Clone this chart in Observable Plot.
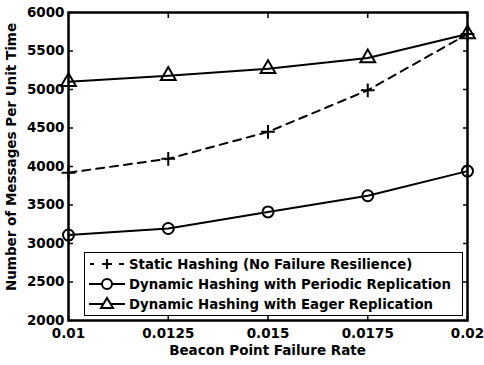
<!DOCTYPE html>
<html>
<head>
<meta charset="utf-8">
<script src="https://cdn.jsdelivr.net/npm/d3@7"></script>
<script src="https://cdn.jsdelivr.net/npm/@observablehq/plot@0.6"></script>
<style>
  html, body { margin: 0; padding: 0; background: white; }
  #wrap { position: relative; width: 484px; height: 365px; font-family: "DejaVu Sans", sans-serif; font-weight: bold; color: black; }
  #legend { position: absolute; left: 84px; top: 252px; width: 379px; height: 64px; border: 1.5px solid black; background: white; box-sizing: border-box; font-size: 13.3px; }
  .row { position: absolute; left: 0; height: 20px; display: flex; align-items: center; white-space: nowrap; }
  .row svg { margin-left: 4px; margin-right: 3px; }
</style>
</head>
<body>
<div id="wrap"></div>
<script>
const failureRates = [0.01, 0.0125, 0.015, 0.0175, 0.02];
const staticHashing = [3920, 4100, 4450, 4990, 5720];
const periodicReplication = [3110, 3195, 3410, 3620, 3940];
const eagerReplication = [5100, 5180, 5270, 5410, 5720];
const xTickValues = [0.01, 0.0125, 0.015, 0.0175, 0.02];
const xTickLabels = ["0.01", "0.0125", "0.015", "0.0175", "0.02"];
const yTickValues = [2000, 2500, 3000, 3500, 4000, 4500, 5000, 5500, 6000];
const seriesNames = [
  "Static Hashing (No Failure Resilience)",
  "Dynamic Hashing with Periodic Replication",
  "Dynamic Hashing with Eager Replication"
];

const mk = (vals) => failureRates.map((x, i) => ({x, y: vals[i]}));
const sData = mk(staticHashing), pData = mk(periodicReplication), eData = mk(eagerReplication);

const chart = Plot.plot({
  width: 484, height: 365,
  marginLeft: 68, marginRight: 17, marginTop: 12, marginBottom: 45,
  style: {fontFamily: "DejaVu Sans, sans-serif", fontWeight: "bold", fontSize: "13.5px", color: "black", background: "white"},
  x: {domain: [0.01, 0.02]},
  y: {domain: [2000, 6000]},
  marks: [
    Plot.axisX({anchor: "bottom", ticks: xTickValues, tickFormat: (d, i) => xTickLabels[i], tickSize: -5, tickPadding: 13, strokeWidth: 1.5,
      fontSize: 13.5, label: null}),
    Plot.axisX({anchor: "top", ticks: xTickValues, tickFormat: () => "", tickSize: -5, strokeWidth: 1.5, label: null}),
    Plot.axisY({anchor: "left", ticks: yTickValues, tickFormat: d => String(d), tickSize: -5, tickPadding: 9, strokeWidth: 1.5,
      fontSize: 13.5, label: null}),
    Plot.axisY({anchor: "right", ticks: yTickValues, tickFormat: () => "", tickSize: -5, strokeWidth: 1.5, label: null}),
    Plot.line(sData, {x: "x", y: "y", stroke: "black", strokeWidth: 2, strokeDasharray: "8,6"}),
    Plot.dot(sData, {x: "x", y: "y", symbol: "plus", r: 4.5, stroke: "black", strokeWidth: 2, fill: "black"}),
    Plot.line(pData, {x: "x", y: "y", stroke: "black", strokeWidth: 2}),
    Plot.dot(pData, {x: "x", y: "y", symbol: "circle", r: 5.5, stroke: "black", strokeWidth: 2, fill: "none"}),
    Plot.line(eData, {x: "x", y: "y", stroke: "black", strokeWidth: 2}),
    Plot.dot(eData, {x: "x", y: "y", symbol: "triangle", r: 5.5, stroke: "black", strokeWidth: 2, fill: "none"}),
    Plot.frame({stroke: "black", strokeWidth: 2.5})
  ]
});

const wrap = document.getElementById("wrap");
wrap.appendChild(chart);

// axis titles as overlay text
const xTitle = document.createElement("div");
xTitle.textContent = "Beacon Point Failure Rate";
Object.assign(xTitle.style, {position: "absolute", left: "68px", width: "399px", top: "342px", textAlign: "center", fontSize: "13.5px"});
wrap.appendChild(xTitle);

const yTitle = document.createElement("div");
Object.assign(yTitle.style, {position: "absolute", left: "11px", top: "157px", width: "0px", height: "0px", fontSize: "13.5px"});
yTitle.innerHTML = `<div style="position:absolute; transform: translate(-50%,-50%) rotate(-90deg); white-space:nowrap;">Number of Messages Per Unit Time</div>`;
wrap.appendChild(yTitle);

const legend = document.createElement("div");
legend.id = "legend";
const symbols = [
  `<line x1="1" y1="10" x2="5" y2="10" stroke="black" stroke-width="2"/><line x1="30" y1="10" x2="35" y2="10" stroke="black" stroke-width="2"/><path d="M13,10H23M18,5V15" stroke="black" stroke-width="2.2"/>`,
  `<line x1="0" y1="10" x2="36" y2="10" stroke="black" stroke-width="2"/><circle cx="18" cy="10" r="5" stroke="black" stroke-width="2" fill="white"/>`,
  `<line x1="0" y1="10" x2="36" y2="10" stroke="black" stroke-width="2"/><path d="M18,4L24,14H12Z" stroke="black" stroke-width="2" fill="white"/>`
];
seriesNames.forEach((name, i) => {
  const row = document.createElement("div");
  row.className = "row";
  row.style.top = (1 + i * 20) + "px";
  row.innerHTML = `<svg width="37" height="20">${symbols[i]}</svg><span>${name}</span>`;
  legend.appendChild(row);
});
wrap.appendChild(legend);
</script>
</body>
</html>
